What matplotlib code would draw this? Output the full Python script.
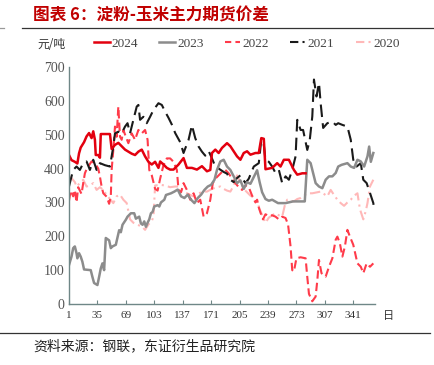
import matplotlib
matplotlib.use('Agg')
import matplotlib.pyplot as plt
from matplotlib.lines import Line2D

plt.rcParams['font.family'] = ['Noto Sans CJK SC', 'DejaVu Sans']

# 2024
d24 = [1, 4, 8, 11, 13, 15, 19, 22, 25, 28, 30, 32, 33, 36, 38, 39, 50, 52, 56, 60, 64, 68, 72,
       76, 80, 84, 88, 92, 96, 100, 104, 108, 110, 114, 118, 122, 126, 132, 138, 142, 148, 154,
       160, 166, 170, 172, 176, 180, 184, 190, 194, 198, 202, 206, 210, 214, 218, 224, 228, 231,
       234, 236, 240, 244, 250, 254, 258, 264, 266, 270, 274, 280, 284]
v24 = [440, 425, 420, 415, 445, 462, 478, 495, 505, 490, 510, 485, 440, 440, 432, 502, 502, 458,
       470, 476, 466, 456, 450, 444, 440, 450, 456, 436, 420, 412, 420, 402, 421, 412, 402, 397,
       397, 412, 431, 402, 402, 397, 407, 392, 396, 446, 456, 446, 461, 475, 466, 451, 436, 426,
       446, 451, 441, 446, 446, 490, 488, 398, 400, 402, 416, 406, 426, 426, 416, 396, 382, 386,
       386]

# 2023
d23 = [1, 4, 6, 8, 10, 11, 13, 15, 17, 19, 27, 29, 31, 35, 37, 39, 41, 43, 45, 49, 51, 53, 57,
       61, 63, 65, 69, 71, 75, 79, 81, 85, 87, 89, 91, 93, 95, 97, 99, 101, 103, 107, 109, 111,
       115, 117, 123, 127, 131, 135, 139, 143, 147, 151, 155, 159, 163, 167, 171, 175, 178, 182,
       186, 190, 194, 198, 202, 206, 210, 214, 218, 222, 226, 229, 232, 236, 240, 244, 251, 260,
       269, 283, 286, 290, 296, 300, 304, 308, 312, 316, 320, 323, 327, 334, 338, 342, 346, 350,
       354, 358, 360, 362, 365]
v23 = [115, 140, 165, 170, 150, 135, 150, 140, 125, 102, 100, 80, 62, 56, 80, 105, 120, 100, 195,
       188, 165, 170, 175, 218, 212, 234, 249, 258, 268, 268, 252, 258, 238, 234, 244, 228, 240,
       250, 268, 272, 288, 292, 288, 300, 308, 322, 327, 332, 338, 318, 313, 323, 308, 298, 313,
       323, 337, 347, 352, 367, 396, 421, 426, 406, 396, 377, 357, 365, 340, 360, 355, 375, 395,
       360, 330, 310, 305, 308, 298, 298, 303, 303, 426, 416, 357, 347, 342, 367, 377, 377, 387,
       406, 411, 416, 406, 402, 426, 421, 406, 436, 465, 420, 446]

# 2022
d22 = [1, 3, 6, 8, 10, 12, 14, 16, 18, 20, 22, 25, 28, 32, 36, 38, 40, 42, 46, 49, 51, 52, 54,
       56, 58, 60, 62, 64, 66, 69, 72, 76, 80, 84, 88, 92, 95, 97, 100, 104, 107, 110, 114, 118,
       122, 126, 130, 132, 135, 138, 142, 146, 150, 154, 158, 162, 166, 170, 173, 176, 180, 184,
       188, 192, 196, 200, 204, 208, 212, 216, 220, 224, 226, 228, 230, 233, 236, 240, 244, 248,
       252, 256, 260, 263, 266, 268, 270, 273, 278, 284, 286, 288, 292, 296, 298, 300, 303, 308,
       312, 316, 320, 322, 325, 328, 331, 334, 337, 341, 346, 350, 353, 357, 361, 365]
v22 = [305, 335, 318, 337, 300, 345, 335, 325, 357, 386, 398, 410, 421, 416, 400, 376, 347, 327,
       317, 296, 318, 396, 455, 524, 494, 583, 494, 485, 514, 494, 475, 504, 485, 514, 504, 514,
       485, 396, 380, 340, 335, 370, 410, 430, 430, 420, 396, 337, 330, 357, 337, 308, 327, 298,
       308, 258, 268, 308, 357, 370, 380, 390, 396, 386, 370, 357, 345, 337, 350, 345, 320, 300,
       308, 285, 270, 250, 265, 260, 262, 258, 250, 258, 254, 235, 170, 100, 96, 135, 138, 135,
       80, 30, 8, 22, 70, 130, 91, 81, 110, 135, 190, 199, 179, 140, 170, 219, 199, 175, 120, 110,
       91, 120, 110, 120]

# 2021
d21 = [1, 3, 6, 10, 14, 18, 22, 26, 30, 34, 38, 44, 50, 52, 54, 56, 60, 64, 68, 71, 74, 78, 82,
       84, 86, 90, 94, 98, 102, 108, 112, 116, 120, 124, 128, 134, 138, 144, 148, 152, 156, 160,
       164, 168, 172, 176, 180, 186, 190, 194, 198, 202, 206, 212, 216, 222, 228, 231, 234, 236,
       240, 244, 248, 252, 256, 260, 264, 268, 272, 274, 278, 281, 286, 289, 292, 294, 297, 300,
       302, 305, 310, 316, 320, 323, 328, 334, 338, 341, 345, 350, 353, 357, 361, 365, 366]
v21 = [347, 367, 396, 406, 396, 416, 421, 396, 426, 396, 416, 410, 406, 436, 465, 504, 509, 504,
       524, 534, 504, 544, 583, 588, 544, 553, 534, 553, 573, 593, 588, 568, 550, 530, 505, 478,
       446, 485, 528, 490, 465, 450, 438, 452, 430, 406, 400, 390, 385, 367, 360, 372, 380, 357,
       370, 406, 416, 485, 470, 426, 420, 406, 387, 396, 357, 377, 367, 396, 436, 544, 514, 514,
       455, 485, 554, 663, 613, 653, 593, 520, 534, 539, 529, 534, 529, 524, 485, 426, 406, 416,
       367, 357, 328, 298, 275]

# 2020
d20 = [1, 4, 8, 10, 14, 18, 22, 26, 30, 34, 38, 42, 46, 50, 54, 58, 62, 66, 70, 74, 78, 82, 88,
       92, 96, 100, 102, 104, 110, 116, 122, 128, 132, 136, 140, 146, 150, 156, 162, 166, 172,
       178, 182, 186, 190, 194, 198, 202, 206, 210, 214, 218, 222, 226, 229, 233, 236, 240, 244,
       248, 252, 256, 259, 262, 266, 270, 274, 278, 282, 286, 292, 298, 302, 306, 310, 314, 318,
       322, 326, 330, 334, 338, 342, 346, 349, 353, 356, 358, 361, 365]
v20 = [375, 372, 360, 347, 357, 367, 347, 350, 357, 337, 345, 337, 322, 310, 298, 318, 323, 308,
       298, 250, 240, 235, 229, 219, 235, 245, 258, 350, 352, 350, 345, 347, 347, 337, 330, 322,
       318, 327, 332, 332, 340, 345, 347, 340, 335, 332, 350, 380, 360, 340, 330, 320, 315, 305,
       280, 258, 240, 255, 262, 268, 262, 258, 290, 308, 305, 303, 310, 313, 320, 327, 327, 330,
       332, 325, 318, 337, 322, 308, 298, 290, 300, 308, 320, 327, 280, 250, 275, 298, 347, 367]

xticks = [1, 35, 69, 103, 137, 171, 205, 239, 273, 307, 341]
series = ['2024', '2023', '2022', '2021', '2020']

fig = plt.figure(figsize=(4.35, 3.65), dpi=100)
ax = fig.add_axes([69 / 435, 1 - 304 / 365, 306 / 435, 237 / 365])

c24, c23, c22, c21, c20 = '#E3000F', '#8C8C8C', '#FF3B4A', '#1A1A1A', '#FFB8B8'
l20, = ax.plot(d20, v20, color=c20, lw=1.5, dashes=(5, 2, 1, 2))
l22, = ax.plot(d22, v22, color=c22, lw=1.5, dashes=(4, 2))
l21, = ax.plot(d21, v21, color=c21, lw=1.5, dashes=(6, 3))
l23, = ax.plot(d23, v23, color=c23, lw=1.8)
l24, = ax.plot(d24, v24, color=c24, lw=1.8)

ax.set_xlim(1, 367)
ax.set_ylim(0, 700)
ax.set_xticks(xticks)
ax.set_yticks(range(0, 701, 100))
ax.set_xticklabels([str(t) for t in xticks], family='Liberation Serif', fontsize=8, color='#333333')
ax.set_yticklabels([str(t) for t in range(0, 701, 100)], family='Liberation Serif', fontsize=10,
                   color='#555555')
for s in ['top', 'right']:
    ax.spines[s].set_visible(False)
for s in ['left', 'bottom']:
    ax.spines[s].set_color('#6F8787')
    ax.spines[s].set_linewidth(1.0)
ax.tick_params(axis='x', direction='in', length=3, color='#6F8787', pad=5)
ax.tick_params(axis='y', length=0, pad=3)

# legend
handles = [Line2D([], [], color=c24, lw=1.8),
           Line2D([], [], color=c23, lw=1.8),
           Line2D([], [], color=c22, lw=1.5, dashes=(3, 2)),
           Line2D([], [], color=c21, lw=1.5, dashes=(4, 2, 1, 2)),
           Line2D([], [], color=c20, lw=1.5, dashes=(4, 2, 1, 2))]
fig.legend(handles, series, loc='center left', bbox_to_anchor=(82 / 435, 1 - 44 / 365), ncol=5,
           frameon=False, handlelength=1.2, handletextpad=0.15, columnspacing=1.6,
           prop={'family': 'Liberation Serif', 'size': 9.5}, labelcolor='#444444')
fig.text(37 / 435, 1 - 44 / 365, '元/吨', fontsize=8.5, va='center', ha='left', color='#333333')
fig.text(383 / 435, 1 - 316 / 365, '日', fontsize=8, va='center', ha='left', color='#333333')

# title and source
fig.text(33 / 435, 1 - 15 / 365, '图表 6：淀粉-玉米主力期货价差', fontsize=12, fontweight='bold',
         color='#C00000', va='center', ha='left')
fig.add_artist(Line2D([22 / 435, 1], [1 - 28 / 365] * 2, color='#333333', lw=0.9))
fig.add_artist(Line2D([0, 4 / 435], [1 - 28 / 365] * 2, color='#999999', lw=0.9))
fig.add_artist(Line2D([0, 430 / 435], [1 - 333 / 365] * 2, color='#333333', lw=0.9))
fig.text(33 / 435, 1 - 346 / 365, '资料来源：钢联，东证衍生品研究院', fontsize=10, color='#222222',
         va='center', ha='left')

fig.savefig('out.png', dpi=100)
